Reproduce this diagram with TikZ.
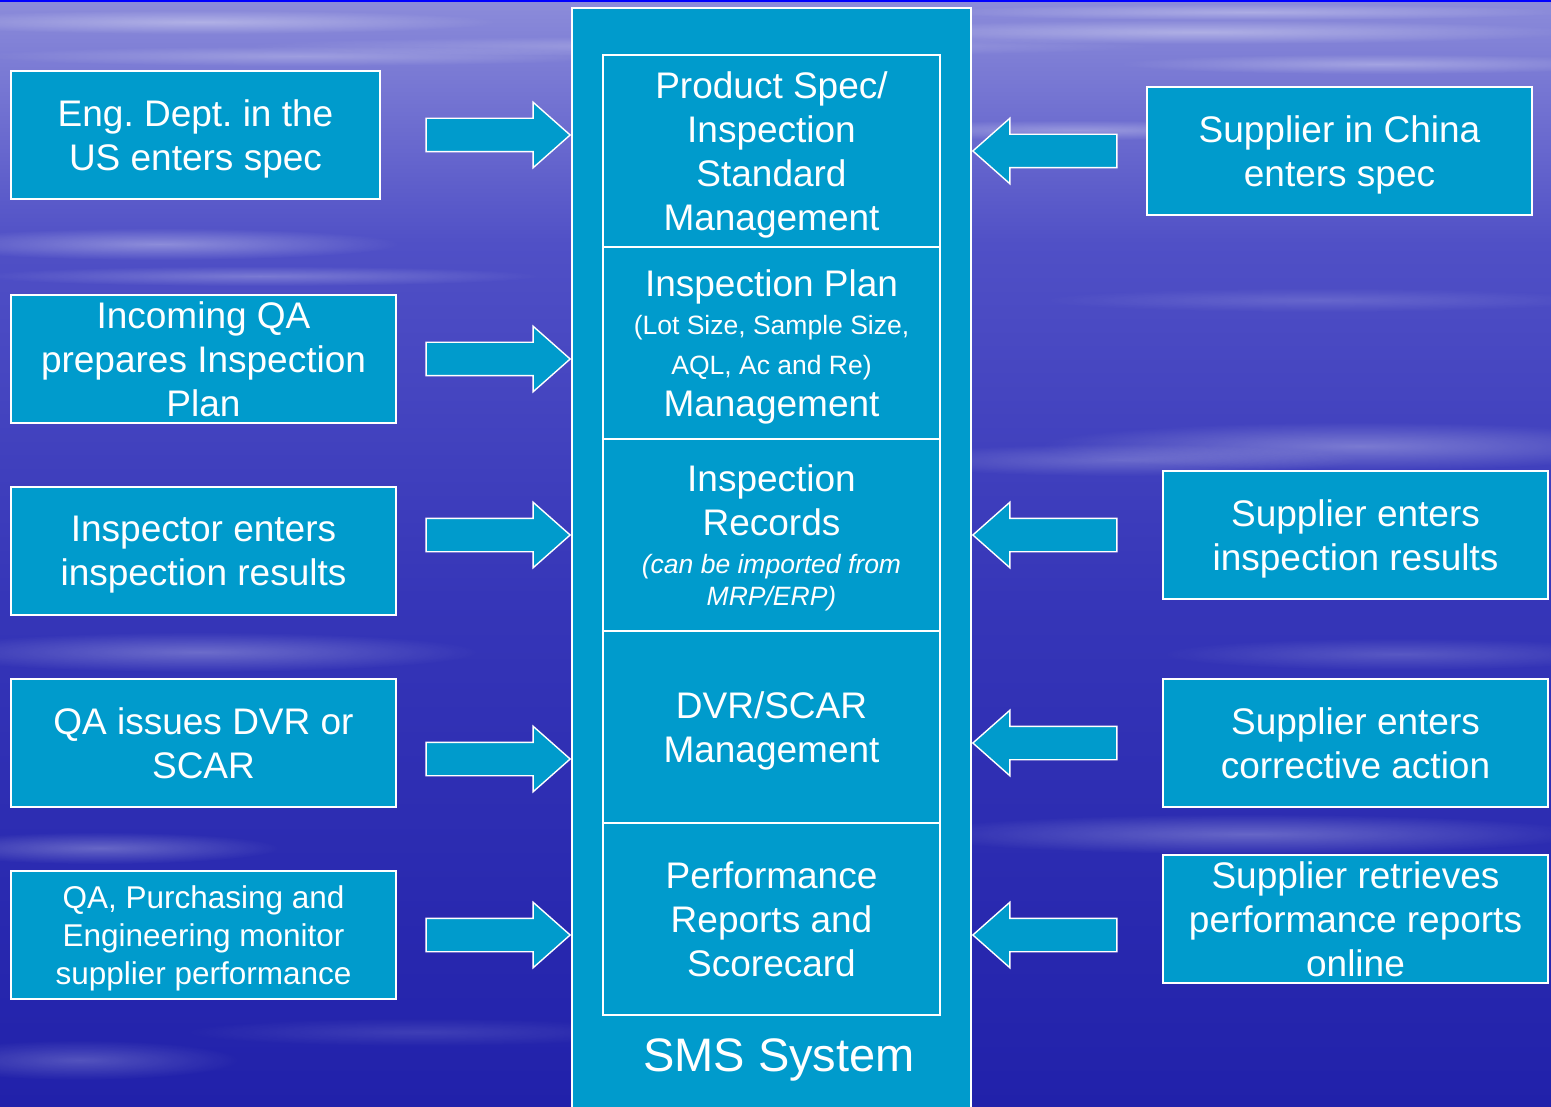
\documentclass[tikz,border=0pt]{standalone}
\usepackage{fontspec}
\setmainfont{Liberation Sans}
\frenchspacing
\usetikzlibrary{positioning,shapes.arrows,fadings}
\definecolor{boxblue}{RGB}{0,155,204}
\definecolor{bgtop}{RGB}{140,140,218}
\definecolor{bgmidtwo}{RGB}{80,80,198}
\definecolor{bgmid}{RGB}{54,54,184}
\definecolor{bgbot}{RGB}{33,33,170}
\pgfdeclareverticalshading{skyshade}{100bp}{color(0bp)=(bgbot); color(25bp)=(bgbot);
  color(48bp)=(bgmid); color(64bp)=(bgmidtwo); color(75bp)=(bgtop); color(100bp)=(bgtop)}
\tikzfading[name=softstreak,inner color=transparent!0,outer color=transparent!100]
\newcommand{\bigtxt}{\fontsize{37}{44}\selectfont}
\newcommand{\smalltxt}{\fontsize{26.5}{41}\selectfont}
\tikzset{basic/.style={draw=white,line width=1.6pt,fill=boxblue,text=white,
                       align=center,inner sep=0pt,text depth=0pt,font=\bigtxt}}
\tikzset{actor/.style={basic,rectangle,minimum width=385pt,minimum height=128pt}}
\tikzset{module/.style={basic,rectangle,minimum width=337pt,minimum height=192pt}}
\tikzset{blockarrow/.style={single arrow,draw=white,line width=1.4pt,fill=boxblue,
                       minimum height=144pt,inner xsep=0pt,inner ysep=16pt,
                       single arrow head extend=16pt,single arrow tip angle=83}}
\begin{document}
\begin{tikzpicture}[x=1pt,y=-1pt]
    % Sky background
    \useasboundingbox (0,0) rectangle (1551,1107);
    \shade[shading=skyshade] (0,0) rectangle (1551,1107);
    \foreach \sx/\sy/\rx/\ry/\op in {200/22/300/12/.35, 700/46/460/10/.25, 1200/32/380/12/.35,
        1380/64/260/10/.30, 300/56/320/10/.25, 1080/130/240/10/.30, 1250/12/320/8/.3,
        160/244/240/16/.35, 260/276/280/10/.25, 1320/300/280/12/.15, 1360/446/320/24/.30,
        1120/460/240/16/.22, 200/652/280/20/.28, 1400/654/240/16/.18, 1250/834/340/20/.28,
        100/848/180/16/.28, 80/1060/160/20/.22, 420/1032/240/14/.12}{%
        \fill[white,fill opacity=\op,path fading=softstreak]
            (\sx,\sy) ellipse ({\rx} and {\ry});
      }
    \fill[blue] (0,0) rectangle (1551,2.5);
    % SMS system frame and its modules
    \node[basic,rectangle,minimum width=399pt,minimum height=1104pt] (sys) at (771.5,560) {};
    \foreach \t [count=\ti] in {Product Spec/\\Inspection\\Standard\\Management,
        {Inspection Plan\\[-6pt]{\smalltxt(Lot Size, Sample Size,}\\[-4pt]{\smalltxt AQL, Ac and Re)}\\[-2pt]Management},
        {Inspection\\Records\\[-6pt]{\smalltxt\itshape(can be imported from}\\[-12pt]{\smalltxt\itshape MRP/ERP)}},
        DVR/SCAR\\Management,
        Performance\\Reports and\\Scorecard}{%
        \node[module] (m\ti) at (771.5,-41+\ti*192) {\t};
      }
    \node[text=white,text depth=0pt,font=\fontsize{47}{56}\selectfont] (smslabel) at (779,1055) {SMS System};
    % Internal users on the left
    \node[actor,minimum width=369pt] (l1) at (195.5,135) {Eng. Dept. in the\\US enters spec};
    \node[actor] (l2) at (203.5,359) {Incoming QA\\prepares Inspection\\Plan};
    \node[actor] (l3) at (203.5,551) {Inspector enters\\inspection results};
    \node[actor] (l4) at (203.5,743) {QA issues DVR or\\SCAR};
    \node[actor,font=\fontsize{31.5}{38}\selectfont] (l5) at (203.5,935)
        {QA, Purchasing and\\Engineering monitor\\supplier performance};
    % Supplier side on the right
    \node[actor] (r1) at (1339.5,151) {Supplier in China\\enters spec};
    \node[actor] (r2) at (1355.5,535) {Supplier enters\\inspection results};
    \node[actor] (r3) at (1355.5,743) {Supplier enters\\corrective action};
    \node[actor] (r4) at (1355.5,919) {Supplier retrieves\\performance reports\\online};
    % Block arrows into the system
    \foreach \ay [count=\ai] in {135,359,535,759,935}{%
        \node[blockarrow,anchor=tip] (la\ai) at (sys.west |- 0,\ay) {};
      }
    \foreach \ay [count=\ai] in {151,535,743,935}{%
        \node[blockarrow,shape border rotate=180,anchor=tip] (ra\ai) at (sys.east |- 0,\ay) {};
      }
\end{tikzpicture}
\end{document}
